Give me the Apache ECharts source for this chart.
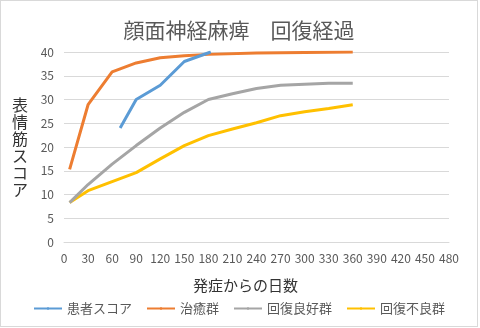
<!DOCTYPE html>
<html><head><meta charset="utf-8">
<script src="https://cdn.jsdelivr.net/npm/echarts@6/dist/echarts.min.js"></script>
<style>html,body{margin:0;padding:0;background:#fff}#c{position:absolute;left:0;top:0;width:476px;height:325px;border:1px solid #d9d9d9}</style>
</head><body><div id="c"></div>
<script>
const title = '顔面神経麻痺　回復経過';
const xName = '発症からの日数';
const yName = '表情筋スコア';
const seriesNames = ['患者スコア', '治癒群', '回復良好群', '回復不良群'];
const colors = ['#5B9BD5', '#ED7D31', '#A5A5A5', '#FFC000'];
const patientDays = [70, 90, 120, 150, 183];
const patientScore = [24, 30, 33, 38, 40];
const curedDays = [7, 30, 60, 90, 120, 150, 180, 240, 300, 360];
const curedScore = [15.3, 28.9, 35.8, 37.7, 38.8, 39.2, 39.5, 39.8, 39.9, 40];
const goodDays = [7, 30, 60, 90, 120, 150, 180, 210, 240, 270, 300, 330, 360];
const goodScore = [8.3, 12.1, 16.4, 20.3, 24.0, 27.3, 30.0, 31.2, 32.3, 33.0, 33.2, 33.4, 33.4];
const poorDays = [7, 30, 60, 90, 120, 150, 180, 210, 240, 270, 300, 330, 360];
const poorScore = [8.3, 10.8, 12.7, 14.6, 17.5, 20.3, 22.4, 23.8, 25.1, 26.6, 27.4, 28.1, 28.9];
const xTicks = {min: 0, max: 480, interval: 30};
const yTicks = {min: 0, max: 40, interval: 5};

const zip = (a, b) => a.map((v, i) => [v, b[i]]);
const dataSets = [zip(patientDays, patientScore), zip(curedDays, curedScore), zip(goodDays, goodScore), zip(poorDays, poorScore)];
const font = '"Noto Sans CJK JP", sans-serif';
const chart = echarts.init(document.getElementById('c'));
chart.setOption({
  animation: false,
  color: colors,
  title: {text: title, left: 'center', top: 14, textStyle: {fontFamily: font, fontSize: 21, fontWeight: 'normal', color: '#595959'}},
  legend: {bottom: 6, left: 'center', itemWidth: 28, itemHeight: 3, itemGap: 14, textStyle: {fontFamily: font, fontSize: 13, color: '#595959'}, data: seriesNames},
  grid: {left: 63, right: 28, top: 51, bottom: 84},
  xAxis: {type: 'value', min: xTicks.min, max: xTicks.max, interval: xTicks.interval,
    name: xName, nameLocation: 'middle', nameGap: 36, nameTextStyle: {fontFamily: font, fontSize: 15, color: '#333', padding: [0, 22, 0, 0]},
    axisLine: {show: true, lineStyle: {color: '#d9d9d9'}}, axisTick: {show: false}, splitLine: {show: false},
    axisLabel: {fontFamily: font, fontSize: 12, color: '#595959', margin: 10}},
  yAxis: {type: 'value', min: yTicks.min, max: yTicks.max, interval: yTicks.interval,
    name: yName.split('').join('\n'), nameLocation: 'middle', nameRotate: 0, nameGap: 36,
    nameTextStyle: {fontFamily: font, fontSize: 16, lineHeight: 17, color: '#333', padding: [8, 0, 0, 0]},
    axisLine: {show: false}, axisTick: {show: false},
    splitLine: {lineStyle: {color: '#d9d9d9'}},
    axisLabel: {fontFamily: font, fontSize: 12, color: '#595959', margin: 10}},
  series: seriesNames.map((n, i) => ({name: n, type: 'line', data: dataSets[i], symbol: 'none', lineStyle: {width: 3}, z: 4 - i}))
});
</script></body></html>
